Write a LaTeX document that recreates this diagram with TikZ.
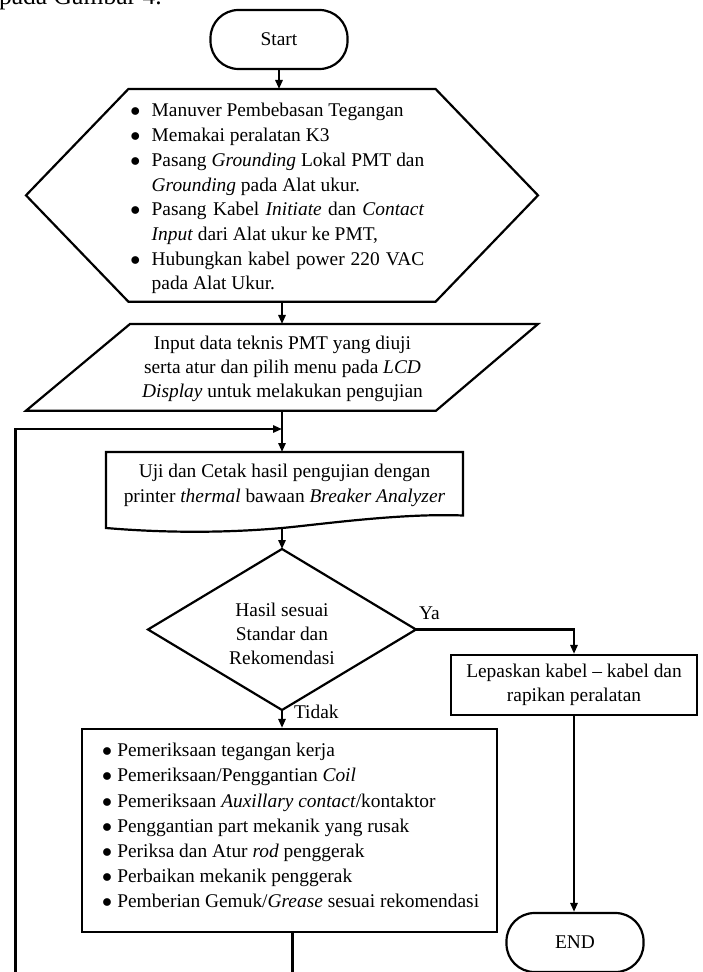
\documentclass[tikz,border=0pt]{standalone}
\usepackage{fontspec}
\setmainfont{Liberation Serif}
\usetikzlibrary{arrows.meta}
\newcommand\hxbul{\makebox[10.7pt][l]{$\bullet$}}
\newcommand\hxind{\hspace*{10.7pt}}
\newcommand\bxbul{\makebox[7pt][l]{\hspace*{-0.6pt}$\bullet$}}
\begin{document}
\begin{tikzpicture}[x=0.5pt,y=-0.5pt,
  every node/.style={font=\fontsize{9.7pt}{12pt}\selectfont},
  shp/.style={line width=1.1pt, line join=miter},
  arr/.style={line width=1.1pt, -{Triangle[length=4.5pt,width=3.6pt]}},
  ghost/.style={inner sep=0, outer sep=0},
  txt/.style={inner sep=0, outer sep=0},
  term/.style={draw, line width=1.1pt, rounded corners=14pt, minimum width=68.5pt, minimum height=29.5pt, inner sep=0},
  boxn/.style={draw, line width=1.1pt, inner sep=0}]
\useasboundingbox (0,0) rectangle (702,972);

% caption fragment at top
\node[txt, anchor=base west, font=\fontsize{12.8pt}{15pt}\selectfont] (cap) at (-1,5) {pada Gambar 4.};

% Start
\node[term] (start) at (279,39.5) {Start};

% hexagon (preparation)
\node[ghost, minimum width=256pt, minimum height=106.35pt] (hex) at (282,195.35) {};
\draw[shp] ([xshift=51.2pt]hex.north west) -- ([xshift=-51.2pt]hex.north east) -- (hex.east)
  -- ([xshift=-51.2pt]hex.south east) -- ([xshift=51.2pt]hex.south west) -- (hex.west) -- cycle;
\node[txt, anchor=base west] (hextxt) at (130.3,117) {\parbox[t]{200pt}{\fontsize{9.7pt}{12.35pt}\selectfont\raggedright
\hxbul Manuver Pembebasan Tegangan\\
\hxbul Memakai peralatan K3\\
\hxbul \makebox[136.3pt][s]{Pasang \textit{Grounding} Lokal PMT dan}\\
\hxind\textit{Grounding} pada Alat ukur.\\
\hxbul \makebox[136.3pt][s]{Pasang Kabel \textit{Initiate} dan \textit{Contact}}\\
\hxind\textit{Input} dari Alat ukur ke PMT,\\
\hxbul \makebox[136.3pt][s]{Hubungkan kabel power 220 VAC}\\
\hxind pada Alat Ukur.}};

% parallelogram (input)
\node[ghost, minimum width=256pt, minimum height=43.35pt] (para) at (282,367.35) {};
\draw[shp] ([xshift=52pt]para.north west) -- (para.north east) -- ([xshift=-51pt]para.south east) -- (para.south west) -- cycle;
\node[txt, anchor=base] (paratxt) at (282.5,349.3) {\parbox[t]{220pt}{\fontsize{9.7pt}{12.1pt}\selectfont\centering
Input data teknis PMT yang diuji\\
serta atur dan pilih menu pada \textit{LCD}\\
\textit{Display} untuk melakukan pengujian}};

% document shape
\node[ghost, minimum width=178.5pt, minimum height=38pt] (doc) at (284.5,490) {};
\draw[shp] (106,452) -- (463,452) -- (463,515.5) .. controls (400,513) and (320,524.5) .. (282,528)
  .. controls (225,533) and (165,533) .. (106,528) -- cycle;
\node[txt, anchor=base] (doctxt) at (284.5,477.7) {\parbox[t]{220pt}{\fontsize{9.7pt}{12.15pt}\selectfont\centering
Uji dan Cetak hasil pengujian dengan\\
printer \textit{thermal} bawaan \textit{Breaker Analyzer}}};

% decision
\node[ghost, minimum width=134pt, minimum height=80.5pt] (dec) at (282,629.5) {};
\draw[shp] (dec.north) -- (dec.east) -- (dec.south) -- (dec.west) -- cycle;
\node[txt, anchor=base] (dectxt) at (282,616) {\parbox[t]{100pt}{\fontsize{9.7pt}{12.1pt}\selectfont\centering
Hasil sesuai\\ Standar dan\\ Rekomendasi}};

% Ya branch
\node[boxn, minimum width=123.3pt, minimum height=30pt, align=center, font=\fontsize{9.7pt}{11.7pt}\selectfont] (lep) at (574,685)
  {Lepaskan kabel \textendash{} kabel dan\\ rapikan peralatan};
\node[term] (endn) at (575,942.5) {END};

% Tidak branch
\node[boxn, minimum width=207.5pt, minimum height=101.5pt] (bigbox) at (289.5,830.5) {};
\node[txt, anchor=base west] (bigtxt) at (103.3,756.7) {\parbox[t]{200pt}{\fontsize{9.7pt}{12.58pt}\selectfont\raggedright
\bxbul Pemeriksaan tegangan kerja\\
\bxbul Pemeriksaan/Penggantian \textit{Coil}\\
\bxbul Pemeriksaan \textit{Auxillary contact}/kontaktor\\
\bxbul Penggantian part mekanik yang rusak\\
\bxbul Periksa dan Atur \textit{rod} penggerak\\
\bxbul Perbaikan mekanik penggerak\\
\bxbul Pemberian Gemuk/\textit{Grease} sesuai rekomendasi}};

% labels
\node[txt, anchor=base west] (ya) at (419,619.3) {Ya};
\node[txt, anchor=base west] (tidak) at (294,718.5) {Tidak};

% connectors
\draw[arr] (start.south) -- (start.south |- hex.north);
\draw[arr] (hex.south) -- (para.north);
\draw[arr] (para.south) -- (para.south |- doc.north);
\draw[arr] (dec.north |- doc.south) -- (dec.north);
\draw[arr] (dec.east) -| (lep.north);
\draw[arr] (lep.south) -- (lep.south |- endn.north);
\draw[arr] (dec.south) -- (dec.south |- bigbox.north);

% loop back
\coordinate (lpA) at (292.4,1000);
\coordinate (lpB) at (15.5,1000);
\coordinate (lpC) at (15.5,429);
\draw[arr] (bigbox.south -| lpA) -- (lpA) -- (lpB) -- (lpC) -- (lpC -| para.south);
\end{tikzpicture}
\end{document}
